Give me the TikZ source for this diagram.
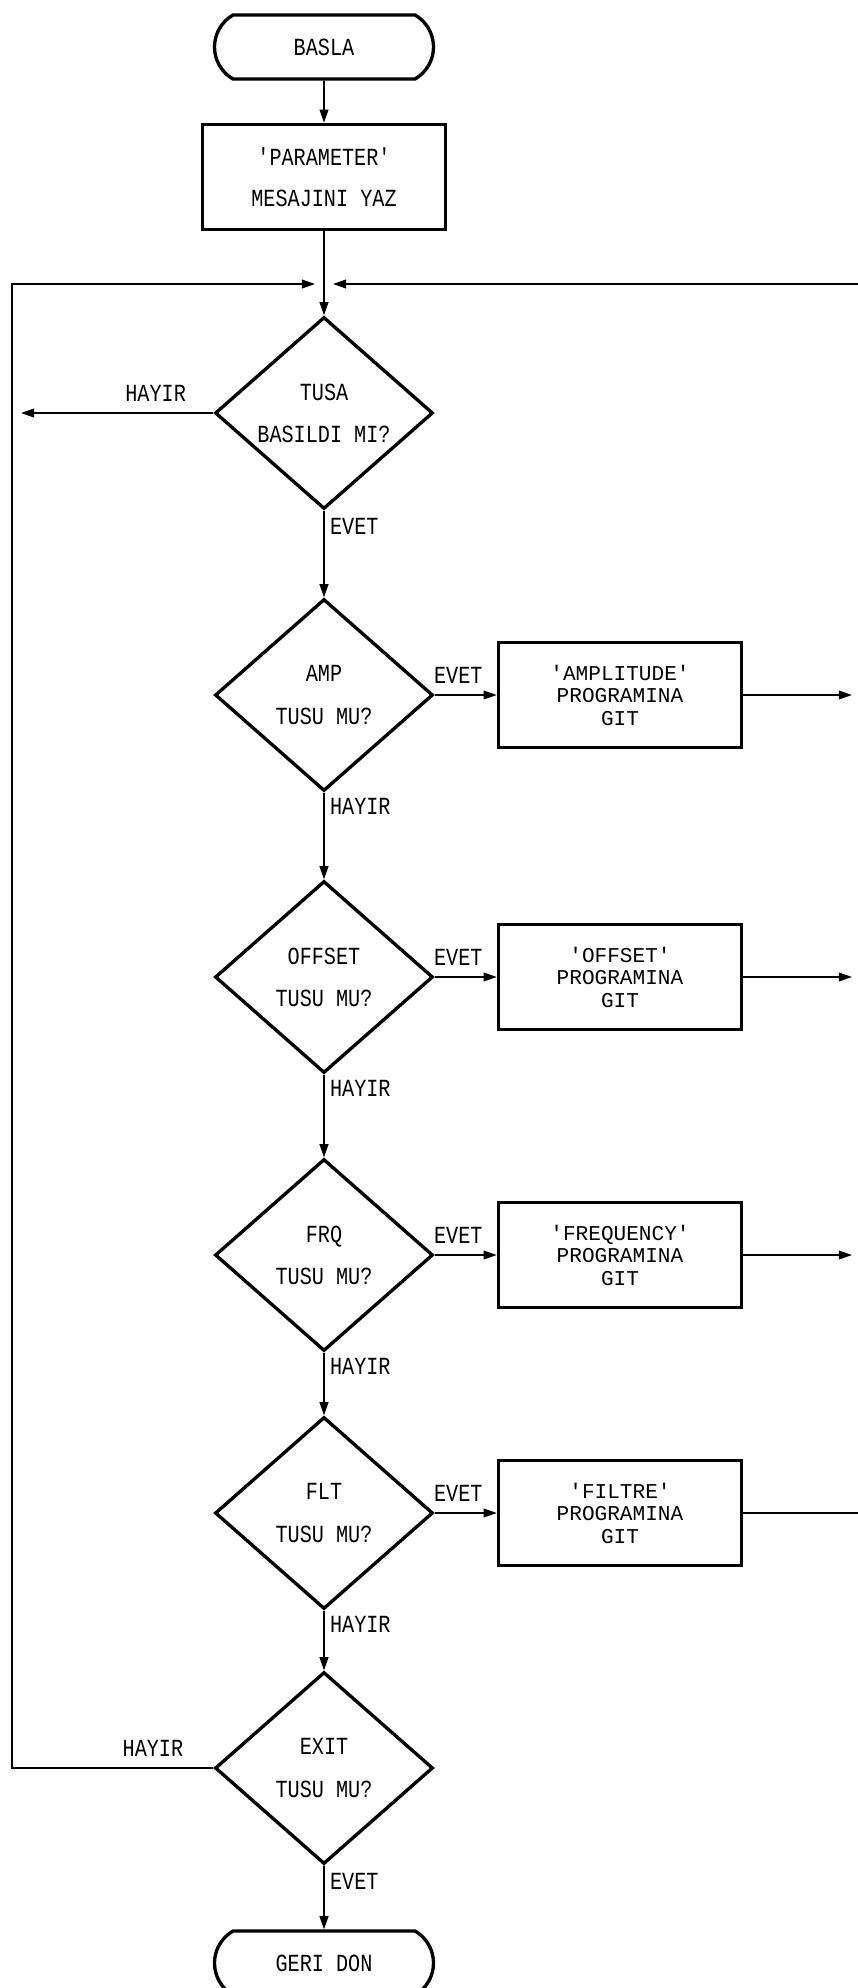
\documentclass[tikz,border=0pt]{standalone}
\usepackage{fontspec}
\newfontfamily\plotfont[FakeStretch=0.82]{Liberation Mono}
\newfontfamily\plotwide{Liberation Mono}
\usetikzlibrary{shapes.geometric, shapes.misc, arrows.meta, positioning}

\begin{document}
\begin{tikzpicture}[x=0.02cm, y=-0.02cm,
    terminal/.style={draw, line width=1.9pt, rounded rectangle, rounded rectangle arc length=120, minimum width=4.38cm, minimum height=1.28cm, inner sep=0pt, font=\plotfont\fontsize{14}{16}\selectfont},
    process/.style={draw, line width=2pt, rectangle, minimum width=4.86cm, minimum height=2.1cm, inner sep=0pt, align=center, font=\plotwide\fontsize{12}{12.8}\selectfont},
    decision/.style={draw, line width=1.9pt, diamond, minimum width=4.36cm, minimum height=3.84cm, inner sep=0pt, align=center, font=\plotfont\fontsize{14}{16}\selectfont},
    flow/.style={line width=0.9pt, -{Triangle[length=7.5pt,width=5pt]}},
    plain/.style={line width=0.9pt},
    lbl/.style={font=\plotfont\fontsize{14}{16}\selectfont, inner sep=1pt}]
        \useasboundingbox (0,0) rectangle (858,1988);
        \clip (0,0) rectangle (858,1988);

        % main column
        \node[terminal] (basla) at (324,47) {BASLA};
        \node[process, font=\plotfont\fontsize{14}{16}\selectfont] (param) at (324,177) {'PARAMETER'\\[7pt]MESAJINI YAZ};
        \node[decision] (tusa)   at (324,413)  {TUSA\\[8pt]BASILDI MI?};
        \node[decision] (amp)    at (324,695)  {AMP\\[8pt]TUSU MU?};
        \node[decision] (offset) at (324,977)  {OFFSET\\[8pt]TUSU MU?};
        \node[decision] (frq)    at (324,1255) {FRQ\\[8pt]TUSU MU?};
        \node[decision] (flt)    at (324,1513) {FLT\\[8pt]TUSU MU?};
        \node[decision] (exit)   at (324,1768) {EXIT\\[8pt]TUSU MU?};
        \node[terminal] (geri)   at (324,1963) {GERI DON};

        % program boxes
        \node[process] (ampgit)    at (620,695)  {'AMPLITUDE'\\PROGRAMINA\\GIT};
        \node[process] (offsetgit) at (620,977)  {'OFFSET'\\PROGRAMINA\\GIT};
        \node[process] (frqgit)    at (620,1255) {'FREQUENCY'\\PROGRAMINA\\GIT};
        \node[process] (fltgit)    at (620,1513) {'FILTRE'\\PROGRAMINA\\GIT};

        % free ends
        \coordinate (inL) at (315,284);
        \coordinate (inR) at (333,284);
        \coordinate (edgeR) at (858,284);
        \coordinate (loopTop) at (12,284);
        \coordinate (loopBot) at (12,1768);
        \coordinate (outL) at (21,413);
        \coordinate (ampR) at (852,695);
        \coordinate (offsetR) at (852,977);
        \coordinate (frqR) at (852,1255);
        \coordinate (fltR) at (858,1513);

        % top part
        \draw[flow] (basla) -- (param);
        \draw[flow] (param) -- (tusa);
        \draw[flow] (exit.west) -- node[lbl, pos=0.3, above=5pt]{HAYIR} (loopBot) -- (loopTop) -- (inL);
        \draw[flow] (edgeR) -- (inR);
        \draw[flow] (tusa.west) -- node[lbl, pos=0.3, above=5pt]{HAYIR} (outL);

        % down the column
        \draw[flow] (tusa) -- node[lbl, pos=0, anchor=north west, xshift=2pt, yshift=-3pt]{EVET} (amp);
        \draw[flow] (amp) -- node[lbl, pos=0, anchor=north west, xshift=2pt, yshift=-2pt]{HAYIR} (offset);
        \draw[flow] (offset) -- node[lbl, pos=0, anchor=north west, xshift=2pt, yshift=-2pt]{HAYIR} (frq);
        \draw[flow] (frq) -- node[lbl, pos=0, anchor=north west, xshift=2pt, yshift=-2pt]{HAYIR} (flt);
        \draw[flow] (flt) -- node[lbl, pos=0, anchor=north west, xshift=2pt, yshift=-2pt]{HAYIR} (exit);
        \draw[flow] (exit) -- node[lbl, pos=0, anchor=north west, xshift=2pt, yshift=-3pt]{EVET} (geri);

        % EVET branches
        \draw[flow] (amp) -- node[lbl, pos=0.38, above=5pt]{EVET} (ampgit);
        \draw[flow] (offset) -- node[lbl, pos=0.38, above=5pt]{EVET} (offsetgit);
        \draw[flow] (frq) -- node[lbl, pos=0.38, above=5pt]{EVET} (frqgit);
        \draw[flow] (flt) -- node[lbl, pos=0.38, above=5pt]{EVET} (fltgit);
        \draw[flow] (ampgit) -- (ampR);
        \draw[flow] (offsetgit) -- (offsetR);
        \draw[flow] (frqgit) -- (frqR);
        \draw[plain] (fltgit) -- (fltR);
    \end{tikzpicture}
\end{document}
